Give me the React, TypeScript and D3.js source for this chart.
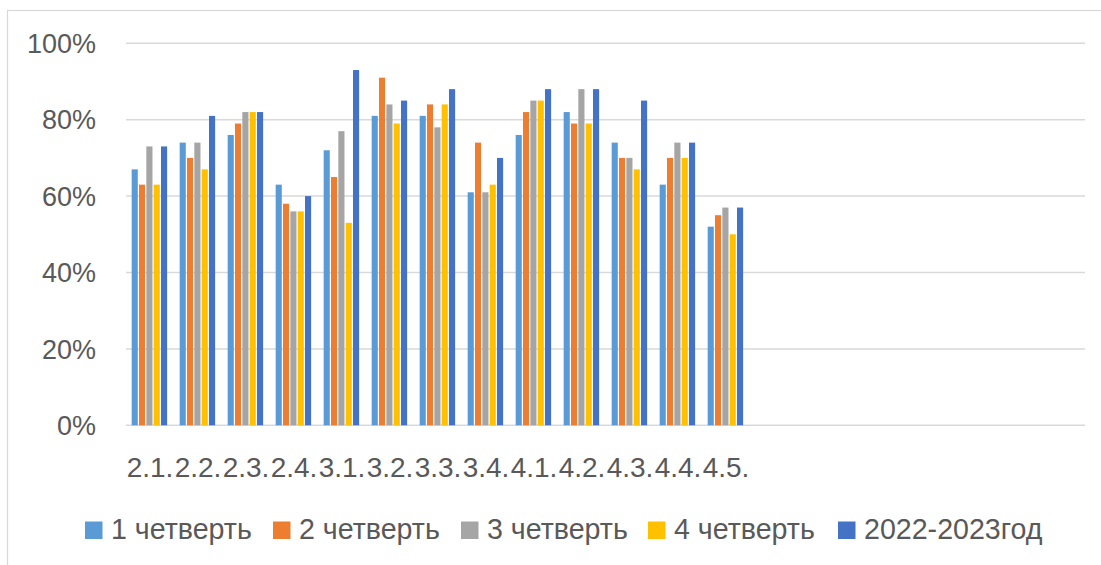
import React, { useEffect, useRef } from 'react';
import * as d3 from 'd3';

// categories on the x axis (the last 7 slots of the sheet are empty)
const categories = ['2.1.', '2.2.', '2.3.', '2.4.', '3.1.', '3.2.', '3.3.', '3.4.', '4.1.', '4.2.', '4.3.', '4.4.', '4.5.', '', '', '', '', '', '', ''];

const seriesNames = ['1 четверть', '2 четверть', '3 четверть', '4 четверть', '2022-2023год'];

const q1 = [0.67, 0.74, 0.76, 0.63, 0.72, 0.81, 0.81, 0.61, 0.76, 0.82, 0.74, 0.63, 0.52];
const q2 = [0.63, 0.70, 0.79, 0.58, 0.65, 0.91, 0.84, 0.74, 0.82, 0.79, 0.70, 0.70, 0.55];
const q3 = [0.73, 0.74, 0.82, 0.56, 0.77, 0.84, 0.78, 0.61, 0.85, 0.88, 0.70, 0.74, 0.57];
const q4 = [0.63, 0.67, 0.82, 0.56, 0.53, 0.79, 0.84, 0.63, 0.85, 0.79, 0.67, 0.70, 0.50];
const year = [0.73, 0.81, 0.82, 0.60, 0.93, 0.85, 0.88, 0.70, 0.88, 0.88, 0.85, 0.74, 0.57];

const yTicks = [0, 0.2, 0.4, 0.6, 0.8, 1];

const colors = ['#5B9BD5', '#ED7D31', '#A5A5A5', '#FFC000', '#4472C4'];

const App = () => {
    const svgRef = useRef<SVGSVGElement>(null);

    useEffect(() => {
        const svg = d3.select(svgRef.current);
        svg.selectAll('*').remove();

        const width = 1101;
        const height = 565;
        const margin = { top: 43.3, right: 16, bottom: 139.7, left: 126 };
        const innerHeight = height - margin.top - margin.bottom;
        const textColor = '#595959';
        const font = '"Liberation Sans", Arial, sans-serif';

        const series = [q1, q2, q3, q4, year];

        // outer chart border
        svg.append('rect')
            .attr('x', 7.5)
            .attr('y', 10.5)
            .attr('width', 1300)
            .attr('height', 700)
            .attr('fill', 'white')
            .attr('stroke', '#d9d9d9')
            .attr('stroke-width', 1.2);

        const x = d3.scaleBand<number>()
            .domain(categories.map((_, i) => i))
            .range([margin.left, margin.left + 48 * categories.length])
            .paddingInner(0.236)
            .paddingOuter(0.118);

        const xInner = d3.scaleBand<number>()
            .domain(seriesNames.map((_, i) => i))
            .range([0, x.bandwidth()]);

        const y = d3.scaleLinear()
            .domain([0, 1])
            .range([margin.top + innerHeight, margin.top]);

        const x0 = margin.left;
        const x1 = width - margin.right;

        // gridlines
        svg.append('g')
            .selectAll('line')
            .data(yTicks)
            .join('line')
            .attr('x1', x0)
            .attr('x2', x1)
            .attr('y1', d => y(d))
            .attr('y2', d => y(d))
            .attr('stroke', '#d9d9d9')
            .attr('stroke-width', 1.5);

        // y tick labels
        svg.append('g')
            .selectAll('text')
            .data(yTicks)
            .join('text')
            .attr('x', 96)
            .attr('y', d => y(d))
            .attr('dy', '0.36em')
            .attr('text-anchor', 'end')
            .attr('fill', textColor)
            .style('font-family', font)
            .style('font-size', '27px')
            .text(d => d3.format('.0%')(d));

        // bars
        series.forEach((values, s) => {
            svg.append('g')
                .selectAll('rect')
                .data(values)
                .join('rect')
                .attr('x', (_, i) => (x(i) as number) + (xInner(s) as number))
                .attr('y', d => y(d))
                .attr('width', xInner.bandwidth() - 1.2)
                .attr('height', d => y(0) - y(d))
                .attr('fill', colors[s]);
        });

        // category labels
        svg.append('g')
            .selectAll('text')
            .data(categories)
            .join('text')
            .attr('x', (_, i) => (x(i) as number) + x.bandwidth() / 2)
            .attr('y', 477)
            .attr('text-anchor', 'middle')
            .attr('fill', textColor)
            .style('font-family', font)
            .style('font-size', '28px')
            .text(d => d);

        // legend
        const legendX = [85, 273, 461, 648, 838];
        const legend = svg.append('g')
            .selectAll('g')
            .data(seriesNames)
            .join('g')
            .attr('transform', (_, i) => `translate(${legendX[i]},521.5)`);

        legend.append('rect')
            .attr('width', 17.5)
            .attr('height', 17.5)
            .attr('fill', (_, i) => colors[i]);

        legend.append('text')
            .attr('x', 26)
            .attr('y', 17.5)
            .attr('fill', textColor)
            .style('font-family', font)
            .style('font-size', '28.6px')
            .text(d => d);
    }, []);

    return (
        <svg ref={svgRef} width="1101" height="565" style={{ position: 'absolute', left: 0, top: 0 }}></svg>
    );
};

export default App;
